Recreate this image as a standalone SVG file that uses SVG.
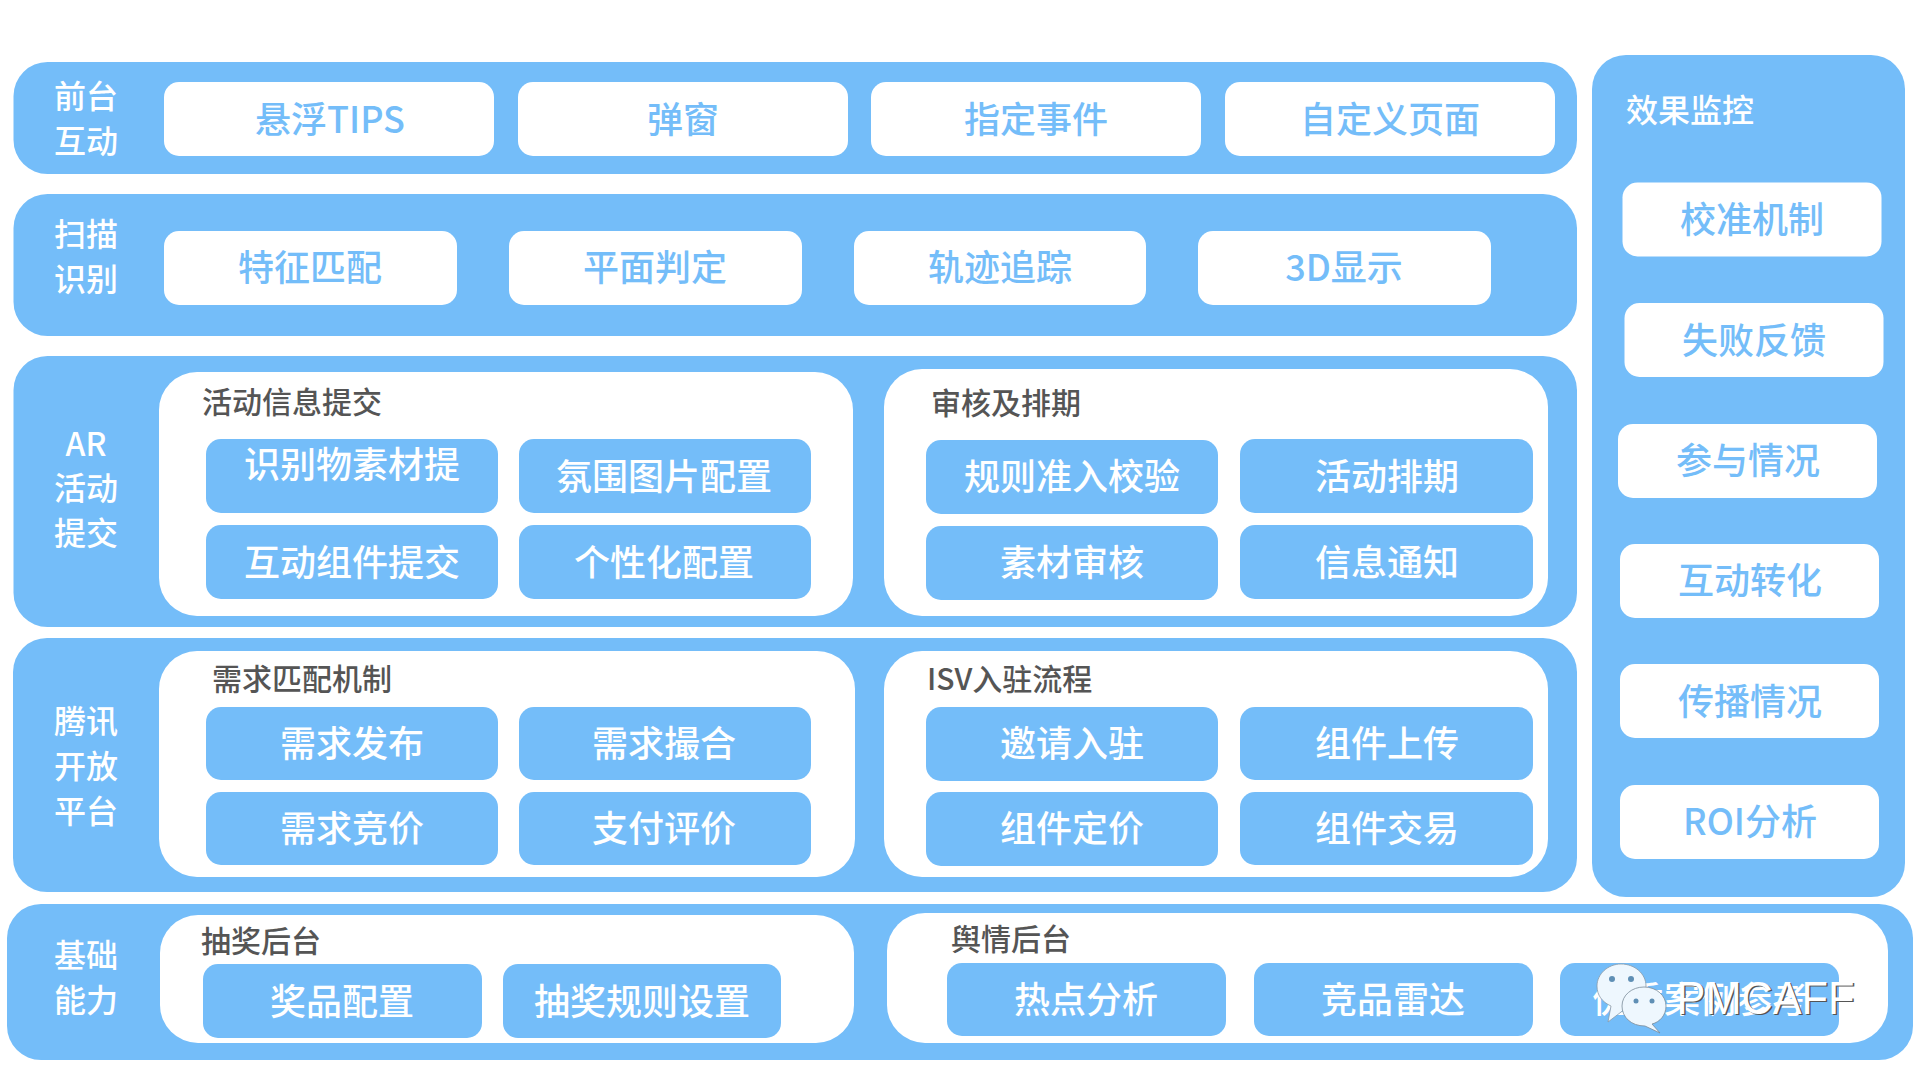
<svg xmlns="http://www.w3.org/2000/svg" width="1920" height="1080" viewBox="0 0 1920 1080">
<style>
text{font-family:"Noto Sans CJK SC","Liberation Sans",sans-serif;dominant-baseline:central;text-anchor:middle}
.p{fill:#74bdf9}.w{fill:#fff}.b{fill:#74bdf9}
.pr{rx:34px;ry:34px}.in{rx:38px;ry:38px}.bx{rx:15px;ry:15px}
.tb{font-size:36px;fill:#74bdf9;font-weight:500}.tw{font-size:36px;fill:#fff;font-weight:500}
.side{font-size:32px;fill:#fff;font-weight:500}
.h{font-size:30px;fill:#555;font-weight:500;text-anchor:start}
.wm{font-family:"Liberation Sans",sans-serif;font-size:46px;text-anchor:start}
</style>
<rect width="1920" height="1080" fill="#fff"/>
<g id="layer-frontend">
<rect class="p pr" x="13.5" y="62" width="1563.5" height="112"/>
<text class="side" x="86" y="94">前台</text><text class="side" x="86" y="139">互动</text>
<g id="f1"><rect class="w bx" x="164" y="82" width="330" height="74"/><text class="tb" x="330" y="117">悬浮TIPS</text></g>
<g id="f2"><rect class="w bx" x="518" y="82" width="330" height="74"/><text class="tb" x="683" y="117">弹窗</text></g>
<g id="f3"><rect class="w bx" x="871" y="82" width="330" height="74"/><text class="tb" x="1036" y="117">指定事件</text></g>
<g id="f4"><rect class="w bx" x="1225" y="82" width="330" height="74"/><text class="tb" x="1390" y="117">自定义页面</text></g>
</g>
<g id="layer-scan">
<rect class="p pr" x="13.5" y="194" width="1563.5" height="142"/>
<text class="side" x="86" y="232">扫描</text><text class="side" x="86" y="277">识别</text>
<g id="s1"><rect class="w bx" x="164" y="231" width="293" height="74"/><text class="tb" x="310" y="265">特征匹配</text></g>
<g id="s2"><rect class="w bx" x="509" y="231" width="293" height="74"/><text class="tb" x="655" y="265">平面判定</text></g>
<g id="s3"><rect class="w bx" x="854" y="231" width="292" height="74"/><text class="tb" x="1000" y="265">轨迹追踪</text></g>
<g id="s4"><rect class="w bx" x="1198" y="231" width="293" height="74"/><text class="tb" x="1344" y="265">3D显示</text></g>
</g>
<g id="layer-ar">
<rect class="p pr" x="13.5" y="356" width="1563.5" height="271"/>
<text class="side" x="86" y="442">AR</text><text class="side" x="86" y="486">活动</text><text class="side" x="86" y="531">提交</text>
<g id="ar-submit"><rect class="w in" x="159" y="372" width="694" height="244"/><text class="h" x="202" y="400">活动信息提交</text>
<g id="a1"><rect class="b bx" x="206" y="439" width="292" height="74"/><text class="tw" x="352" y="462">识别物素材提</text></g>
<g id="a2"><rect class="b bx" x="519" y="439" width="292" height="74"/><text class="tw" x="664" y="474">氛围图片配置</text></g>
<g id="a3"><rect class="b bx" x="206" y="525" width="292" height="74"/><text class="tw" x="352" y="560">互动组件提交</text></g>
<g id="a4"><rect class="b bx" x="519" y="525" width="292" height="74"/><text class="tw" x="664" y="560">个性化配置</text></g>
</g>
<g id="ar-review"><rect class="w in" x="884" y="369" width="664" height="247"/><text class="h" x="931" y="401">审核及排期</text>
<g id="a5"><rect class="b bx" x="926" y="440" width="292" height="74"/><text class="tw" x="1072" y="474">规则准入校验</text></g>
<g id="a6"><rect class="b bx" x="1240" y="439" width="293" height="74"/><text class="tw" x="1387" y="474">活动排期</text></g>
<g id="a7"><rect class="b bx" x="926" y="526" width="292" height="74"/><text class="tw" x="1072" y="560">素材审核</text></g>
<g id="a8"><rect class="b bx" x="1240" y="525" width="293" height="74"/><text class="tw" x="1387" y="560">信息通知</text></g>
</g>
</g>
<g id="layer-open">
<rect class="p pr" x="13" y="638" width="1564" height="254"/>
<text class="side" x="86" y="719">腾讯</text><text class="side" x="86" y="764">开放</text><text class="side" x="86" y="809">平台</text>
<g id="open-match"><rect class="w in" x="159" y="651" width="696" height="226"/><text class="h" x="212" y="677">需求匹配机制</text>
<g id="o1"><rect class="b bx" x="206" y="707" width="292" height="73"/><text class="tw" x="352" y="741">需求发布</text></g>
<g id="o2"><rect class="b bx" x="519" y="707" width="292" height="73"/><text class="tw" x="664" y="741">需求撮合</text></g>
<g id="o3"><rect class="b bx" x="206" y="792" width="292" height="73"/><text class="tw" x="352" y="826">需求竞价</text></g>
<g id="o4"><rect class="b bx" x="519" y="792" width="292" height="73"/><text class="tw" x="664" y="826">支付评价</text></g>
</g>
<g id="open-isv"><rect class="w in" x="884" y="651" width="664" height="226"/><text class="h" x="927" y="677">ISV入驻流程</text>
<g id="o5"><rect class="b bx" x="926" y="707" width="292" height="74"/><text class="tw" x="1072" y="741">邀请入驻</text></g>
<g id="o6"><rect class="b bx" x="1240" y="707" width="293" height="73"/><text class="tw" x="1387" y="741">组件上传</text></g>
<g id="o7"><rect class="b bx" x="926" y="792" width="292" height="74"/><text class="tw" x="1072" y="826">组件定价</text></g>
<g id="o8"><rect class="b bx" x="1240" y="792" width="293" height="73"/><text class="tw" x="1387" y="826">组件交易</text></g>
</g>
</g>
<g id="layer-base">
<rect class="p pr" x="7" y="904" width="1906" height="156"/>
<text class="side" x="86" y="953">基础</text><text class="side" x="86" y="998">能力</text>
<g id="base-lottery"><rect class="w in" x="160" y="915" width="694" height="128"/><text class="h" x="201" y="939">抽奖后台</text>
<g id="b1"><rect class="b bx" x="203" y="964" width="279" height="74"/><text class="tw" x="342" y="999">奖品配置</text></g>
<g id="b2"><rect class="b bx" x="503" y="964" width="278" height="74"/><text class="tw" x="642" y="999">抽奖规则设置</text></g>
</g>
<g id="base-opinion"><rect class="w in" x="887" y="913" width="1001" height="130"/><text class="h" x="951" y="937">舆情后台</text>
<g id="b3"><rect class="b bx" x="947" y="963" width="279" height="73"/><text class="tw" x="1086" y="997">热点分析</text></g>
<g id="b4"><rect class="b bx" x="1254" y="963" width="279" height="73"/><text class="tw" x="1393" y="997">竞品雷达</text></g>
<g id="b5"><rect class="b bx" x="1560" y="963" width="279" height="73"/><text class="tw" x="1700" y="997">优秀案例参考</text></g>
</g>
</g>
<g id="layer-monitor">
<rect class="p pr" x="1592" y="55" width="313" height="842"/>
<text class="side" x="1626" y="108" style="text-anchor:start">效果监控</text>
<g id="m1"><rect class="w bx" x="1622.5" y="182.5" width="259" height="74"/><text class="tb" x="1752" y="217">校准机制</text></g>
<g id="m2"><rect class="w bx" x="1624.5" y="303" width="259" height="74"/><text class="tb" x="1754" y="338">失败反馈</text></g>
<g id="m3"><rect class="w bx" x="1618" y="424" width="259" height="74"/><text class="tb" x="1748" y="458">参与情况</text></g>
<g id="m4"><rect class="w bx" x="1620" y="544" width="259" height="74"/><text class="tb" x="1750" y="578">互动转化</text></g>
<g id="m5"><rect class="w bx" x="1620" y="664" width="259" height="74"/><text class="tb" x="1750" y="699">传播情况</text></g>
<g id="m6"><rect class="w bx" x="1620" y="785" width="259" height="74"/><text class="tb" x="1750" y="819">ROI分析</text></g>
</g>
<g id="watermark">
<path d="M1621 964c14 0 25 10 25 22s-11 22-21 23l-17 13 3-16c-9-4-14-11-14-20 0-12 11-22 24-22z" fill="#eef7fe" stroke="#8a9aa8" stroke-width=".8"/>
<circle cx="1612" cy="979" r="3" fill="#5f8fb5"/><circle cx="1631" cy="979" r="3" fill="#5f8fb5"/>
<path d="M1644 987c13 0 22 9 22 19 0 9-6 16-14 18l8 9-15-7c-14 0-23-9-23-20s10-19 22-19z" fill="#eef7fe" stroke="#7a8a98" stroke-width=".8"/>
<circle cx="1636" cy="1001" r="2.5" fill="#5f8fb5"/><circle cx="1652" cy="1001" r="2.5" fill="#5f8fb5"/>
<text class="wm" x="1678" y="999" fill="#555" textLength="178" lengthAdjust="spacingAndGlyphs">PMCAFF</text>
<text class="wm" x="1676.5" y="997.5" fill="#fff" textLength="178" lengthAdjust="spacingAndGlyphs">PMCAFF</text>
</g>
</svg>
